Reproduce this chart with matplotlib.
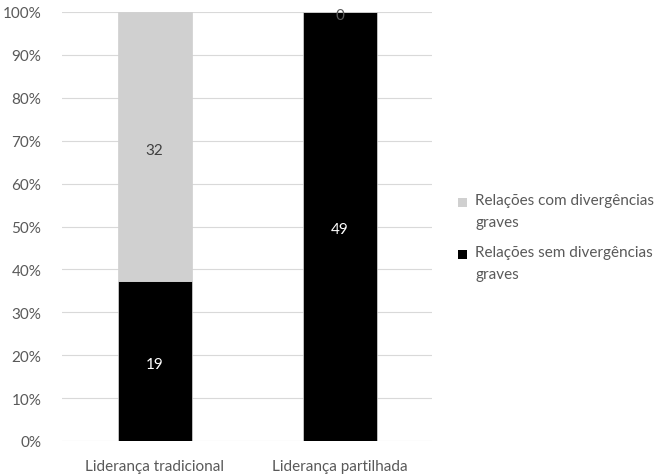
import matplotlib.pyplot as plt
from matplotlib.patches import Rectangle
from matplotlib.transforms import offset_copy
import numpy as np

categories = ["Liderança tradicional", "Liderança partilhada"]
sem_div = [19, 49]
com_div = [32, 0]
series_names = ["Relações sem divergências\ngraves", "Relações com divergências\ngraves"]
yticks = [0, 10, 20, 30, 40, 50, 60, 70, 80, 90, 100]

plt.rcParams['font.family'] = ['Lato', 'DejaVu Sans']
text_col = '#595959'
fs = 11

W, H = 667, 477
fig = plt.figure(figsize=(W / 100, H / 100), dpi=100)
ax = fig.add_axes([62 / W, 35 / H, 370 / W, 429 / H])

sem = np.array(sem_div, float)
com = np.array(com_div, float)
tot = sem + com
sem_p = sem / tot * 100
com_p = com / tot * 100
x = np.arange(len(categories))

colors = ['black', '#d0d0d0']
ax.bar(x, sem_p, width=0.4, color=colors[0], edgecolor='#d9d9d9', linewidth=0.5, zorder=3)
ax.bar(x, com_p, bottom=sem_p, width=0.4, color=colors[1], edgecolor='#d0d0d0',
       linewidth=0.5, zorder=3)

lbl_tr = offset_copy(ax.transData, fig=fig, x=0, y=-3, units='dots')
for i in range(len(categories)):
    ax.text(x[i], sem_p[i] / 2, str(sem_div[i]), ha='center', va='center',
            color='white', fontsize=fs, zorder=4, transform=lbl_tr)
    ax.text(x[i], sem_p[i] + com_p[i] / 2, str(com_div[i]), ha='center', va='center',
            color='#404040' if com_p[i] > 0 else text_col, fontsize=fs, zorder=4,
            transform=lbl_tr)

ax.set_xlim(-0.5, 1.5)
ax.set_ylim(0, 100)
ax.set_yticks(yticks)
ax.set_yticklabels([f"{t}%" for t in yticks])
ax.set_xticks(x)
ax.set_xticklabels(categories)
ax.tick_params(axis='both', length=0, colors=text_col, labelsize=fs)
ax.tick_params(axis='y', pad=15)
ax.tick_params(axis='x', pad=13)
ax.grid(axis='y', color='#d9d9d9', linewidth=0.8, zorder=0)
for s in ax.spines.values():
    s.set_visible(False)

# legend: series listed top-down in reverse stacking order
entries = [(series_names[1], colors[1], 203), (series_names[0], colors[0], 255)]
for name, col, ymid in entries:
    fig.patches.append(Rectangle((458 / W, 1 - (ymid + 5) / H), 9 / W, 9 / H,
                                 transform=fig.transFigure, facecolor=col,
                                 edgecolor='none'))
    fig.text(475 / W, 1 - (ymid - 9) / H, name, ha='left', va='top',
             fontsize=fs, color=text_col, linespacing=1.75)

fig.savefig("out.png", dpi=100)
